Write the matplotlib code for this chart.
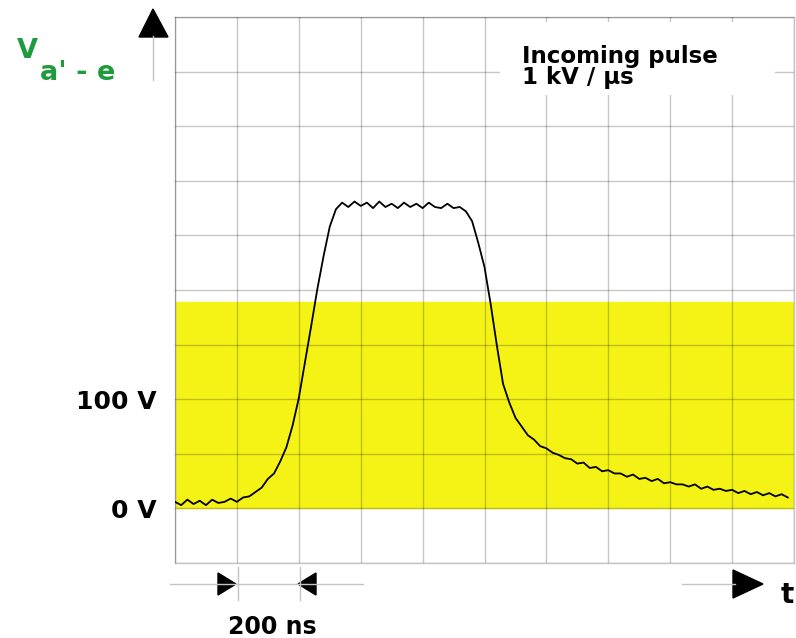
import matplotlib
matplotlib.use("Agg")
import matplotlib.pyplot as plt
import numpy as np
from matplotlib.patches import Polygon, Rectangle
from matplotlib.lines import Line2D

time_ns = np.arange(0, 2000, 20)
volts = [6, 3, 8, 4, 7, 3, 8, 5, 6, 9,
         6, 10, 11, 15, 19, 27, 32, 43, 56, 76,
         101, 134, 167, 201, 231, 258, 274, 280, 276, 281,
         277, 280, 275, 281, 276, 279, 275, 280, 276, 279,
         275, 280, 276, 275, 279, 275, 276, 272, 263, 243,
         221, 187, 149, 114, 97, 83, 75, 67, 63, 57,
         55, 51, 49, 46, 45, 41, 42, 37, 38, 34,
         35, 32, 32, 29, 31, 27, 28, 25, 27, 23,
         24, 22, 22, 20, 22, 18, 20, 17, 18, 16,
         17, 14, 16, 13, 15, 12, 14, 11, 13, 10]

y_ticks = [-50, 0, 50, 100, 150, 200, 250, 300, 350, 400, 450]
y_labels = ['', '0 V', '', '100 V', '', '', '', '', '', '', '']
x_ticks = [0, 200, 400, 600, 800, 1000, 1200, 1400, 1600, 1800, 2000]
band_top = 189  # top of the yellow band (V)

W, H = 796, 638
green = '#1f9a3c'
yellow = '#f5f316'
linec = '#c4c4c4'

fig = plt.figure(figsize=(W / 100, H / 100), dpi=100)
ax = fig.add_axes([175 / W, 1 - 563 / H, (794 - 175) / W, (563 - 17) / H])

ax.axhspan(0, band_top, color=yellow, zorder=0)
ax.plot(time_ns, volts, color='black', lw=1.3, zorder=4)

ax.set_xlim(0, 2000)
ax.set_ylim(-50, 450)
ax.set_xticks(x_ticks)
ax.set_xticklabels([])
ax.set_yticks(y_ticks)
ax.set_yticklabels(y_labels, fontsize=18, fontweight='bold')
ax.tick_params(length=0, axis='y', pad=13)
ax.tick_params(length=0, axis='x')
ax.grid(True, color='black', alpha=0.22, lw=1)
ax.set_axisbelow(False)
for s in ax.spines.values():
    s.set_color(linec)
    s.set_linewidth(1)

# white box behind the annotation
ax.add_patch(Rectangle(((500 - 175) / 619, 1 - (95 - 17) / 546), 275 / 619, 73 / 546,
                       transform=ax.transAxes, facecolor='white', edgecolor='none', zorder=3))
fig.text(522 / W, 1 - 84 / H, 'Incoming pulse\n1 kV / µs', fontsize=16.5, fontweight='bold',
         va='baseline', ha='left', linespacing=0.9)


def px(x, y):
    return (x / W, 1 - y / H)


def tri(points):
    fig.patches.append(Polygon([px(*p) for p in points], closed=True, transform=fig.transFigure,
                               facecolor='black', edgecolor='black'))


def seg(x0, y0, x1, y1):
    a, b = px(x0, y0), px(x1, y1)
    fig.lines.append(Line2D([a[0], b[0]], [a[1], b[1]], transform=fig.transFigure, color=linec, lw=1))


# vertical axis arrow
seg(153, 80, 153, 36)
tri([(153, 9), (139, 37), (168, 37)])

# y label
fig.text(17 / W, 1 - 58 / H, 'V', fontsize=19.5, fontweight='bold', color=green, va='baseline')
fig.text(40 / W, 1 - 80 / H, "a' - e", fontsize=19.5, fontweight='bold', color=green, va='baseline')

# 200 ns marker
seg(170, 584, 363, 584)
seg(238, 567, 238, 600)
seg(300, 567, 300, 600)
tri([(236, 584), (218, 573), (218, 595)])
tri([(298, 584), (316, 573), (316, 595)])
fig.text(272 / W, 1 - 634 / H, '200 ns', fontsize=17, fontweight='bold', ha='center', va='baseline')

# time arrow
seg(682, 584, 735, 584)
tri([(763, 584), (733, 570), (733, 598)])
fig.text(781 / W, 1 - 603 / H, 't', fontsize=20, fontweight='bold', va='baseline')

fig.savefig('out.png', dpi=100, facecolor='white')
